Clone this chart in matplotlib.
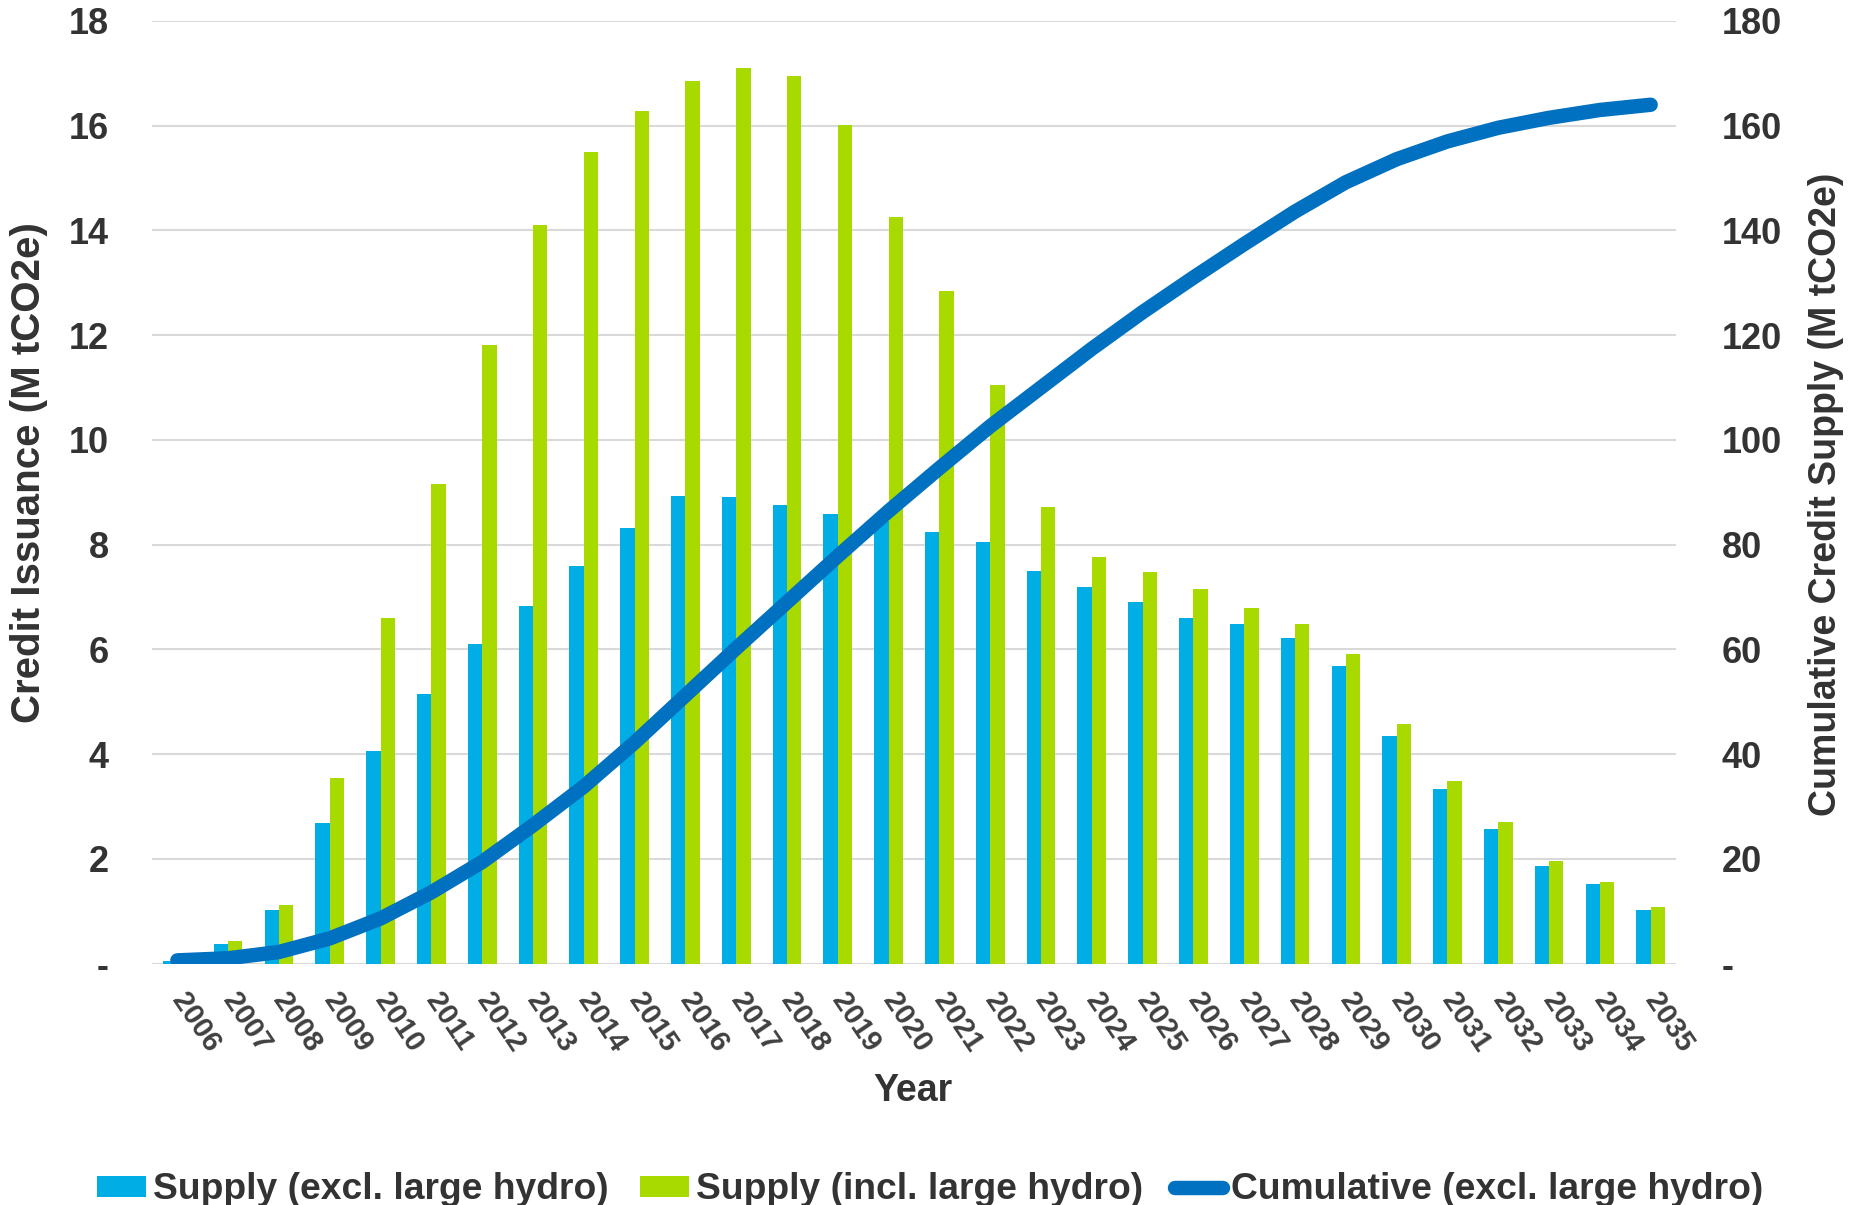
import numpy as np
import matplotlib
matplotlib.use("Agg")
import matplotlib.pyplot as plt
from matplotlib.patches import Patch
from matplotlib.lines import Line2D

# ---- data -------------------------------------------------------------
years = ["2006", "2007", "2008", "2009", "2010", "2011", "2012", "2013",
         "2014", "2015", "2016", "2017", "2018", "2019", "2020", "2021",
         "2022", "2023", "2024", "2025", "2026", "2027", "2028", "2029",
         "2030", "2031", "2032", "2033", "2034", "2035"]

supply_excl_hydro = [0.05, 0.38, 1.02, 2.68, 4.05, 5.15, 6.11, 6.83, 7.60, 8.31,
                     8.93, 8.91, 8.76, 8.59, 8.45, 8.24, 8.05, 7.50, 7.19, 6.91,
                     6.60, 6.49, 6.21, 5.68, 4.34, 3.33, 2.56, 1.86, 1.51, 1.03]

supply_incl_hydro = [0.05, 0.43, 1.11, 3.55, 6.60, 9.16, 11.81, 14.11, 15.50, 16.28,
                     16.86, 17.10, 16.95, 16.02, 14.26, 12.84, 11.04, 8.71, 7.76, 7.48,
                     7.16, 6.78, 6.49, 5.91, 4.57, 3.48, 2.70, 1.95, 1.56, 1.07]

cumulative_excl_hydro = [0.6, 1.0, 2.2, 4.8, 8.6, 13.6, 19.4, 26.4, 33.8, 42.2,
                         51.2, 60.2, 69.0, 77.8, 86.4, 94.6, 102.6, 110.0, 117.4, 124.4,
                         131.0, 137.4, 143.6, 149.2, 153.6, 157.0, 159.6, 161.5, 163.0, 164.0]

left_ticks = [0, 2, 4, 6, 8, 10, 12, 14, 16, 18]
left_tick_labels = ["-", "2", "4", "6", "8", "10", "12", "14", "16", "18"]
right_ticks = [0, 20, 40, 60, 80, 100, 120, 140, 160, 180]
right_tick_labels = ["-", "20", "40", "60", "80", "100", "120", "140", "160", "180"]

# ---- style ------------------------------------------------------------
BLUE_BAR = "#00ADE5"
GREEN_BAR = "#A8DA00"
LINE_BLUE = "#0070C0"
TEXT = "#333333"
GRID = "#D9D9D9"

plt.rcParams["font.family"] = ["Liberation Sans", "DejaVu Sans"]
plt.rcParams["font.weight"] = "bold"

fig = plt.figure(figsize=(18.6, 12.05), dpi=100)
ax = fig.add_axes([0.0817, 0.2004, 0.8194, 0.7822])

x = np.arange(len(years))
w = 0.282
ax.bar(x - w / 2, supply_excl_hydro, width=w, color=BLUE_BAR, zorder=3)
ax.bar(x + w / 2, supply_incl_hydro, width=w, color=GREEN_BAR, zorder=3)

ax.set_xlim(-0.5, len(years) - 0.5)
ax.set_ylim(0, 18)
ax.set_yticks(left_ticks)
ax.set_yticklabels(left_tick_labels)
ax.yaxis.grid(True, color=GRID, linewidth=1.5, zorder=0)
ax.set_axisbelow(True)
for s in ax.spines.values():
    s.set_visible(False)

ax.tick_params(axis="y", length=0, pad=31, labelsize=26, labelcolor=TEXT)
ax.set_xticks(x)
ax.set_xticklabels(years, rotation=-56, ha="left", va="center",
                   rotation_mode="anchor", fontsize=21, color="#404040")
ax.tick_params(axis="x", length=0, pad=23)

# cumulative line on secondary axis
ax2 = ax.twinx()
ax2.plot(x, cumulative_excl_hydro, color=LINE_BLUE, linewidth=10.4,
         solid_capstyle="round", solid_joinstyle="round", zorder=4)
ax2.set_ylim(0, 180)
ax2.set_yticks(right_ticks)
ax2.set_yticklabels(right_tick_labels)
ax2.tick_params(axis="y", length=0, pad=33, labelsize=26, labelcolor=TEXT)
for s in ax2.spines.values():
    s.set_visible(False)

# axis titles
fig.text(0.0155, 0.6075, "Credit Issuance (M tCO2e)", rotation=90,
         ha="center", va="center", fontsize=29, color=TEXT)
fig.text(0.9817, 0.590, "Cumulative Credit Supply (M tCO2e)", rotation=90,
         ha="center", va="center", fontsize=27, color=TEXT)
fig.text(0.491, 0.0945, "Year", ha="center", va="center", fontsize=27, color=TEXT)

# legend
handles = [Patch(facecolor=BLUE_BAR, edgecolor="none"),
           Patch(facecolor=GREEN_BAR, edgecolor="none"),
           Line2D([0], [0], color=LINE_BLUE, linewidth=10.4, solid_capstyle="round")]
labels = ["Supply (excl. large hydro)", "Supply (incl. large hydro)",
          "Cumulative (excl. large hydro)"]
leg = fig.legend(handles, labels, loc="center", bbox_to_anchor=(0.5, 0.0125),
                 ncol=3, frameon=False, fontsize=26.8, handlelength=1.3,
                 handleheight=0.5, handletextpad=0.2, columnspacing=0.85,
                 borderpad=0, borderaxespad=0)
for t in leg.get_texts():
    t.set_color(TEXT)

fig.savefig("out.png", dpi=100)
